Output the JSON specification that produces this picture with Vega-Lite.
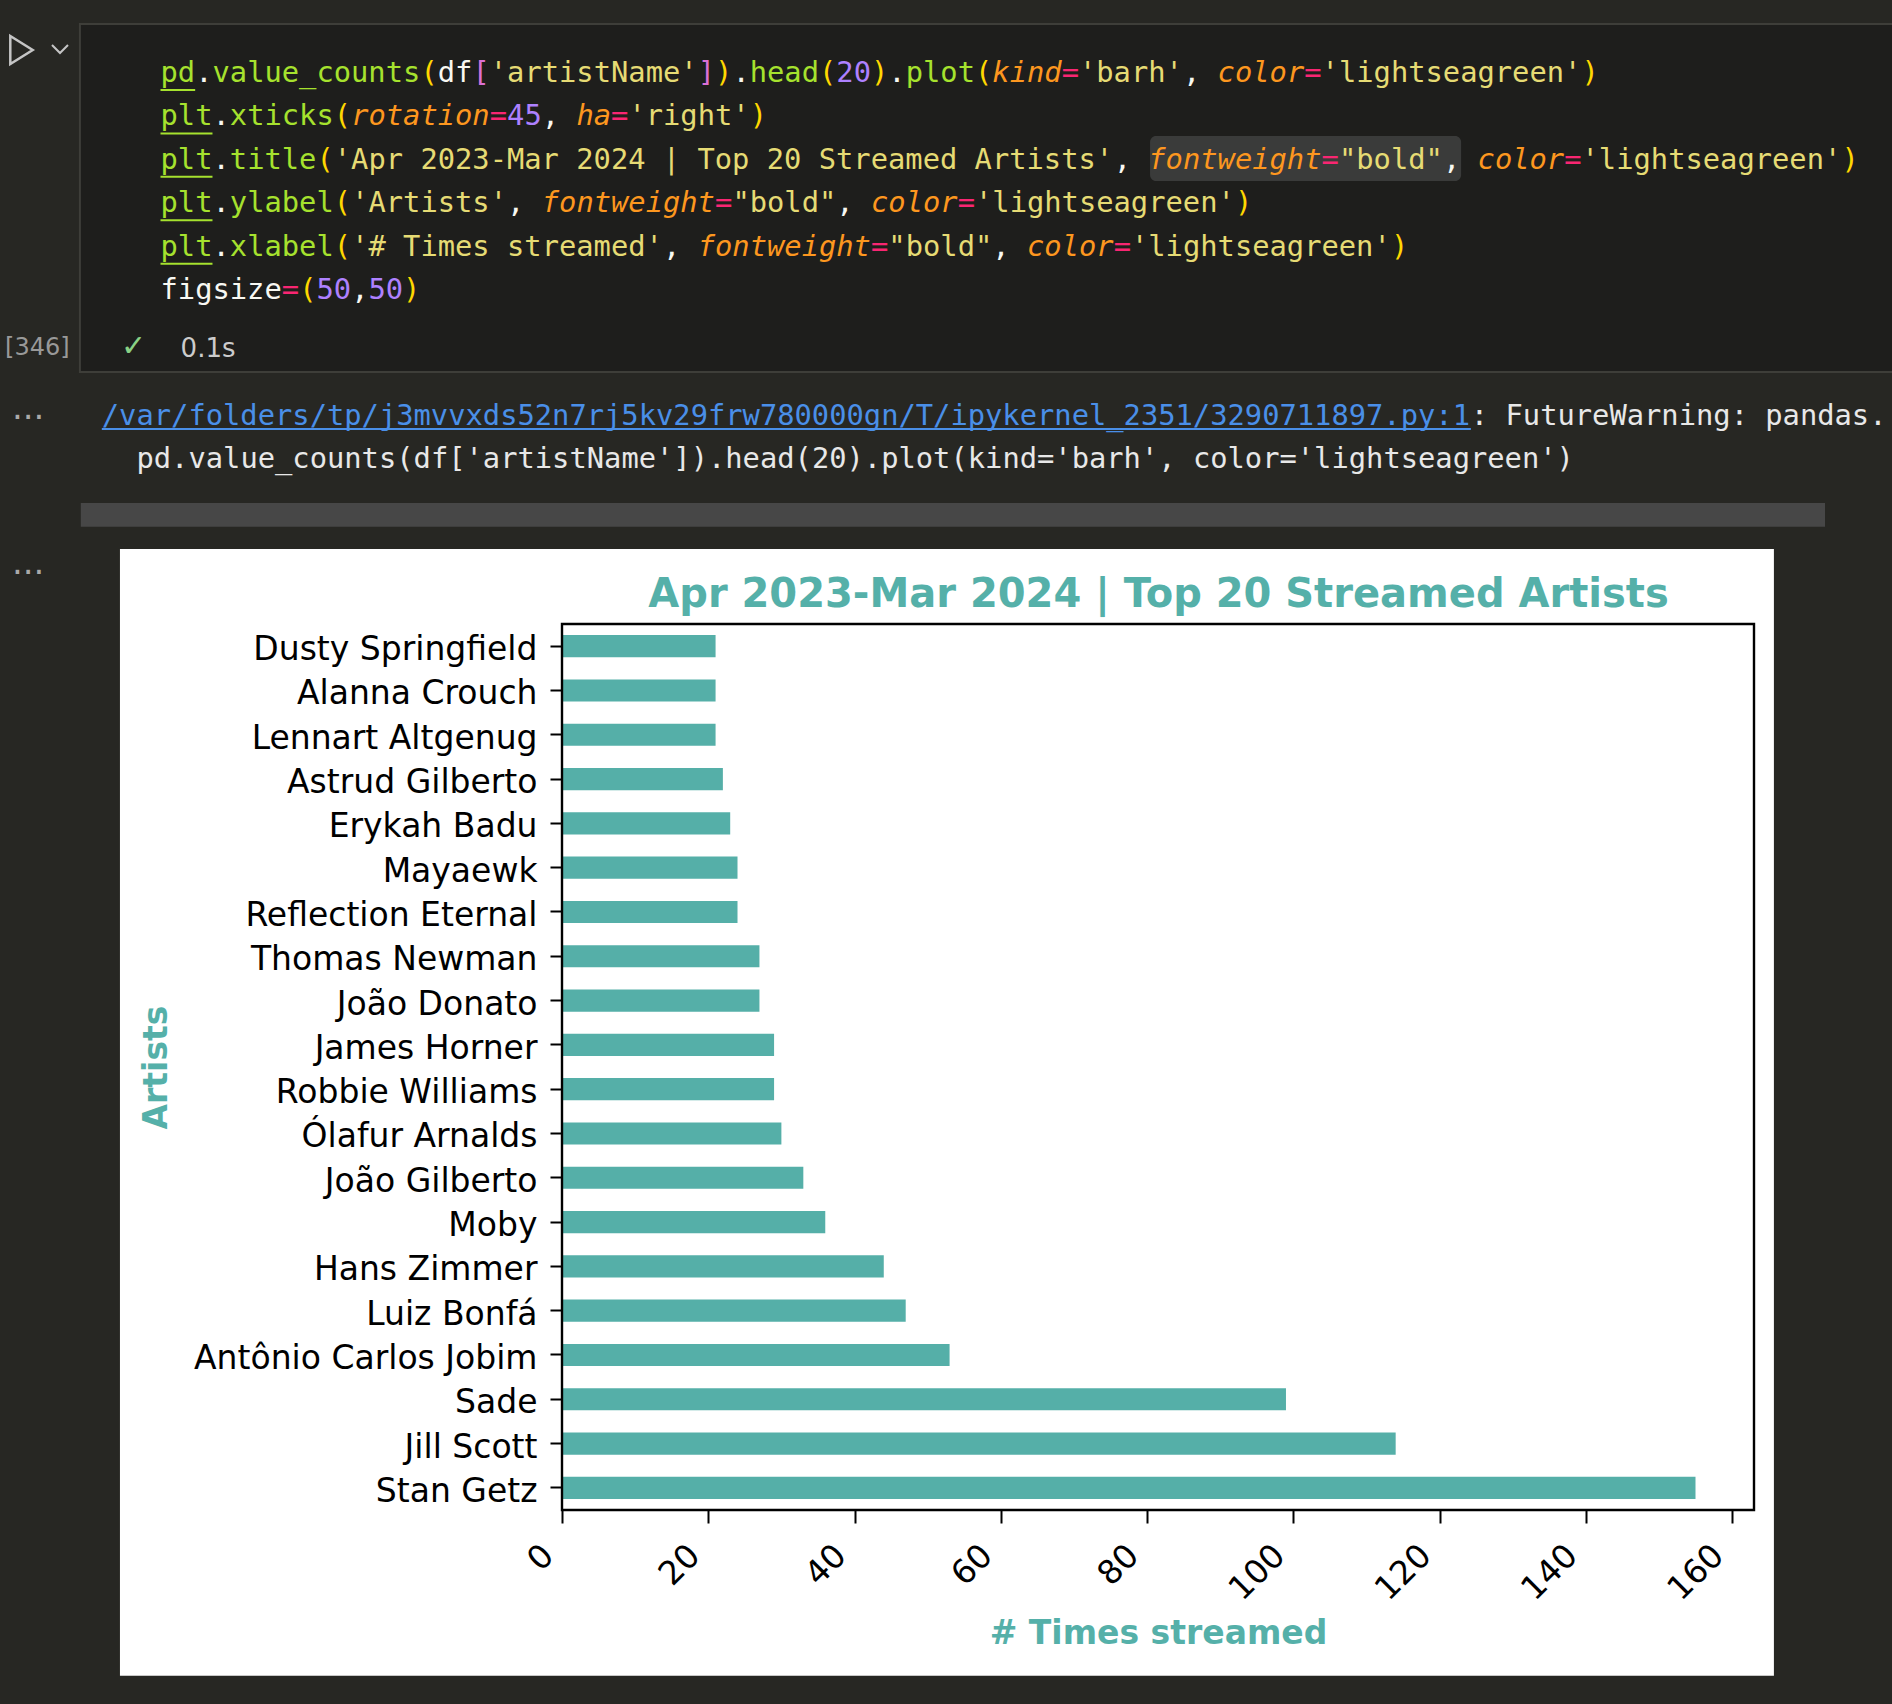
{
  "$schema": "https://vega.github.io/schema/vega-lite/v6.json",
  "autosize": "none",
  "width": 1192,
  "height": 886,
  "padding": {"left": 562, "top": 624, "right": 138, "bottom": 194},
  "background": "#272723",
  "config": {"view": {"stroke": null}},
  "datasets": {
    "artists": [
      {"artist": "Dusty Springfield", "count": 21},
      {"artist": "Alanna Crouch", "count": 21},
      {"artist": "Lennart Altgenug", "count": 21},
      {"artist": "Astrud Gilberto", "count": 22},
      {"artist": "Erykah Badu", "count": 23},
      {"artist": "Mayaewk", "count": 24},
      {"artist": "Reflection Eternal", "count": 24},
      {"artist": "Thomas Newman", "count": 27},
      {"artist": "João Donato", "count": 27},
      {"artist": "James Horner", "count": 29},
      {"artist": "Robbie Williams", "count": 29},
      {"artist": "Ólafur Arnalds", "count": 30},
      {"artist": "João Gilberto", "count": 33},
      {"artist": "Moby", "count": 36},
      {"artist": "Hans Zimmer", "count": 44},
      {"artist": "Luiz Bonfá", "count": 47},
      {"artist": "Antônio Carlos Jobim", "count": 53},
      {"artist": "Sade", "count": 99},
      {"artist": "Jill Scott", "count": 114},
      {"artist": "Stan Getz", "count": 155}
    ],
    "code": [
      {"ln": 1, "c": 0, "t": "pd", "k": "mod"},
      {"ln": 1, "c": 2, "t": ".", "k": "w"},
      {"ln": 1, "c": 3, "t": "value_counts", "k": "fn"},
      {"ln": 1, "c": 15, "t": "(", "k": "par"},
      {"ln": 1, "c": 16, "t": "df", "k": "w"},
      {"ln": 1, "c": 18, "t": "[", "k": "br"},
      {"ln": 1, "c": 19, "t": "'artistName'", "k": "str"},
      {"ln": 1, "c": 31, "t": "]", "k": "br"},
      {"ln": 1, "c": 32, "t": ")", "k": "par"},
      {"ln": 1, "c": 33, "t": ".", "k": "w"},
      {"ln": 1, "c": 34, "t": "head", "k": "fn"},
      {"ln": 1, "c": 38, "t": "(", "k": "par"},
      {"ln": 1, "c": 39, "t": "20", "k": "num"},
      {"ln": 1, "c": 41, "t": ")", "k": "par"},
      {"ln": 1, "c": 42, "t": ".", "k": "w"},
      {"ln": 1, "c": 43, "t": "plot", "k": "fn"},
      {"ln": 1, "c": 47, "t": "(", "k": "par"},
      {"ln": 1, "c": 48, "t": "kind", "k": "kw"},
      {"ln": 1, "c": 52, "t": "=", "k": "eq"},
      {"ln": 1, "c": 53, "t": "'barh'", "k": "str"},
      {"ln": 1, "c": 59, "t": ",", "k": "w"},
      {"ln": 1, "c": 61, "t": "color", "k": "kw"},
      {"ln": 1, "c": 66, "t": "=", "k": "eq"},
      {"ln": 1, "c": 67, "t": "'lightseagreen'", "k": "str"},
      {"ln": 1, "c": 82, "t": ")", "k": "par"},
      {"ln": 2, "c": 0, "t": "plt", "k": "mod"},
      {"ln": 2, "c": 3, "t": ".", "k": "w"},
      {"ln": 2, "c": 4, "t": "xticks", "k": "fn"},
      {"ln": 2, "c": 10, "t": "(", "k": "par"},
      {"ln": 2, "c": 11, "t": "rotation", "k": "kw"},
      {"ln": 2, "c": 19, "t": "=", "k": "eq"},
      {"ln": 2, "c": 20, "t": "45", "k": "num"},
      {"ln": 2, "c": 22, "t": ",", "k": "w"},
      {"ln": 2, "c": 24, "t": "ha", "k": "kw"},
      {"ln": 2, "c": 26, "t": "=", "k": "eq"},
      {"ln": 2, "c": 27, "t": "'right'", "k": "str"},
      {"ln": 2, "c": 34, "t": ")", "k": "par"},
      {"ln": 3, "c": 0, "t": "plt", "k": "mod"},
      {"ln": 3, "c": 3, "t": ".", "k": "w"},
      {"ln": 3, "c": 4, "t": "title", "k": "fn"},
      {"ln": 3, "c": 9, "t": "(", "k": "par"},
      {"ln": 3, "c": 10, "t": "'Apr 2023-Mar 2024 | Top 20 Streamed Artists'", "k": "str"},
      {"ln": 3, "c": 55, "t": ",", "k": "w"},
      {"ln": 3, "c": 57, "t": "fontweight", "k": "kw"},
      {"ln": 3, "c": 67, "t": "=", "k": "eq"},
      {"ln": 3, "c": 68, "t": "\"bold\"", "k": "str"},
      {"ln": 3, "c": 74, "t": ",", "k": "w"},
      {"ln": 3, "c": 76, "t": "color", "k": "kw"},
      {"ln": 3, "c": 81, "t": "=", "k": "eq"},
      {"ln": 3, "c": 82, "t": "'lightseagreen'", "k": "str"},
      {"ln": 3, "c": 97, "t": ")", "k": "par"},
      {"ln": 4, "c": 0, "t": "plt", "k": "mod"},
      {"ln": 4, "c": 3, "t": ".", "k": "w"},
      {"ln": 4, "c": 4, "t": "ylabel", "k": "fn"},
      {"ln": 4, "c": 10, "t": "(", "k": "par"},
      {"ln": 4, "c": 11, "t": "'Artists'", "k": "str"},
      {"ln": 4, "c": 20, "t": ",", "k": "w"},
      {"ln": 4, "c": 22, "t": "fontweight", "k": "kw"},
      {"ln": 4, "c": 32, "t": "=", "k": "eq"},
      {"ln": 4, "c": 33, "t": "\"bold\"", "k": "str"},
      {"ln": 4, "c": 39, "t": ",", "k": "w"},
      {"ln": 4, "c": 41, "t": "color", "k": "kw"},
      {"ln": 4, "c": 46, "t": "=", "k": "eq"},
      {"ln": 4, "c": 47, "t": "'lightseagreen'", "k": "str"},
      {"ln": 4, "c": 62, "t": ")", "k": "par"},
      {"ln": 5, "c": 0, "t": "plt", "k": "mod"},
      {"ln": 5, "c": 3, "t": ".", "k": "w"},
      {"ln": 5, "c": 4, "t": "xlabel", "k": "fn"},
      {"ln": 5, "c": 10, "t": "(", "k": "par"},
      {"ln": 5, "c": 11, "t": "'# Times streamed'", "k": "str"},
      {"ln": 5, "c": 29, "t": ",", "k": "w"},
      {"ln": 5, "c": 31, "t": "fontweight", "k": "kw"},
      {"ln": 5, "c": 41, "t": "=", "k": "eq"},
      {"ln": 5, "c": 42, "t": "\"bold\"", "k": "str"},
      {"ln": 5, "c": 48, "t": ",", "k": "w"},
      {"ln": 5, "c": 50, "t": "color", "k": "kw"},
      {"ln": 5, "c": 55, "t": "=", "k": "eq"},
      {"ln": 5, "c": 56, "t": "'lightseagreen'", "k": "str"},
      {"ln": 5, "c": 71, "t": ")", "k": "par"},
      {"ln": 6, "c": 0, "t": "figsize", "k": "w"},
      {"ln": 6, "c": 7, "t": "=", "k": "eq"},
      {"ln": 6, "c": 8, "t": "(", "k": "par"},
      {"ln": 6, "c": 9, "t": "50", "k": "num"},
      {"ln": 6, "c": 11, "t": ",", "k": "w"},
      {"ln": 6, "c": 12, "t": "50", "k": "num"},
      {"ln": 6, "c": 14, "t": ")", "k": "par"}
    ],
    "output": [
      {"ln": 8.903, "c": -3.387, "t": "/var/folders/tp/j3mvvxds52n7rj5kv29frw780000gn/T/ipykernel_2351/3290711897.py:1", "k": "link"},
      {"ln": 8.903, "c": 75.613, "t": ": FutureWarning: pandas.", "k": "out"},
      {"ln": 9.896, "c": -1.387, "t": "pd.value_counts(df['artistName']).head(20).plot(kind='barh', color='lightseagreen')", "k": "out"}
    ],
    "underlines": [
      {"ln": 1, "c0": 0, "c1": 2, "k": "mod"},
      {"ln": 2, "c0": 0, "c1": 3, "k": "mod"},
      {"ln": 3, "c0": 0, "c1": 3, "k": "mod"},
      {"ln": 4, "c0": 0, "c1": 3, "k": "mod"},
      {"ln": 5, "c0": 0, "c1": 3, "k": "mod"}
    ],
    "linkline": [
      {"ln": 8.903, "c0": -3.387, "c1": 75.613, "k": "link"}
    ]
  },
  "resolve": {"scale": {"x": "independent", "y": "independent"}},
  "layer": [
    {
      "data": {"values": [{}]},
      "mark": {"type": "rect", "fill": "#1e1e1c", "stroke": "#3e3e39", "strokeWidth": 2},
      "encoding": {
        "x": {"datum": -4.65, "type": "quantitative", "scale": {"domain": [23.168, 91.951], "nice": false, "zero": false}, "axis": null},
        "x2": {"datum": 101},
        "y": {"datum": -0.336, "type": "quantitative", "scale": {"domain": [13.488, 33.903], "nice": false, "zero": false, "reverse": true}, "axis": null},
        "y2": {"datum": 7.68}
      }
    },
    {
      "data": {"values": [{}]},
      "mark": {"type": "rect", "fill": "#3a3b3a", "cornerRadius": 6},
      "encoding": {
        "x": {"datum": 57.1, "type": "quantitative", "scale": {"domain": [23.168, 91.951], "nice": false, "zero": false}, "axis": null},
        "x2": {"datum": 75.05},
        "y": {"datum": 2.244, "type": "quantitative", "scale": {"domain": [13.488, 33.903], "nice": false, "zero": false, "reverse": true}, "axis": null},
        "y2": {"datum": 3.281}
      }
    },
    {
      "data": {"values": [{}]},
      "mark": {"type": "rect", "fill": "#474747"},
      "encoding": {
        "x": {"datum": -4.6, "type": "quantitative", "scale": {"domain": [23.168, 91.951], "nice": false, "zero": false}, "axis": null},
        "x2": {"datum": 96.05},
        "y": {"datum": 10.7, "type": "quantitative", "scale": {"domain": [13.488, 33.903], "nice": false, "zero": false, "reverse": true}, "axis": null},
        "y2": {"datum": 11.25}
      }
    },
    {
      "data": {"values": [{}]},
      "mark": {"type": "rect", "fill": "#ffffff"},
      "encoding": {
        "x": {"datum": -2.34, "type": "quantitative", "scale": {"domain": [23.168, 91.951], "nice": false, "zero": false}, "axis": null},
        "x2": {"datum": 93.1},
        "y": {"datum": 11.76, "type": "quantitative", "scale": {"domain": [13.488, 33.903], "nice": false, "zero": false, "reverse": true}, "axis": null},
        "y2": {"datum": 37.72}
      }
    },
    {
      "data": {"name": "code"},
      "transform": [{"filter": "datum.k != 'kw'"}],
      "mark": {"type": "text", "font": "DejaVu Sans Mono", "fontSize": 28.78, "align": "left", "baseline": "alphabetic"},
      "encoding": {
        "x": {"field": "c", "type": "quantitative", "scale": {"domain": [23.168, 91.951], "nice": false, "zero": false}, "axis": null},
        "y": {"field": "ln", "type": "quantitative", "scale": {"domain": [13.488, 33.903], "nice": false, "zero": false, "reverse": true}, "axis": null},
        "text": {"field": "t"},
        "color": {"field": "k", "type": "nominal", "legend": null, "scale": {"domain": ["mod", "fn", "w", "par", "br", "str", "num", "kw", "eq", "link", "out"], "range": ["#a6e22e", "#a6e22e", "#f8f8f2", "#ffd700", "#da70d6", "#e6db74", "#ae81ff", "#fd971f", "#f92672", "#4a8fe8", "#e8e8e8"]}}
      }
    },
    {
      "data": {"name": "code"},
      "transform": [{"filter": "datum.k == 'kw'"}],
      "mark": {"type": "text", "font": "DejaVu Sans Mono", "fontSize": 28.78, "fontStyle": "italic", "align": "left", "baseline": "alphabetic"},
      "encoding": {
        "x": {"field": "c", "type": "quantitative", "scale": {"domain": [23.168, 91.951], "nice": false, "zero": false}, "axis": null},
        "y": {"field": "ln", "type": "quantitative", "scale": {"domain": [13.488, 33.903], "nice": false, "zero": false, "reverse": true}, "axis": null},
        "text": {"field": "t"},
        "color": {"field": "k", "type": "nominal", "legend": null, "scale": {"domain": ["mod", "fn", "w", "par", "br", "str", "num", "kw", "eq", "link", "out"], "range": ["#a6e22e", "#a6e22e", "#f8f8f2", "#ffd700", "#da70d6", "#e6db74", "#ae81ff", "#fd971f", "#f92672", "#4a8fe8", "#e8e8e8"]}}
      }
    },
    {
      "data": {"name": "output"},
      "mark": {"type": "text", "font": "DejaVu Sans Mono", "fontSize": 28.78, "align": "left", "baseline": "alphabetic"},
      "encoding": {
        "x": {"field": "c", "type": "quantitative", "scale": {"domain": [23.168, 91.951], "nice": false, "zero": false}, "axis": null},
        "y": {"field": "ln", "type": "quantitative", "scale": {"domain": [13.488, 33.903], "nice": false, "zero": false, "reverse": true}, "axis": null},
        "text": {"field": "t"},
        "color": {"field": "k", "type": "nominal", "legend": null, "scale": {"domain": ["mod", "fn", "w", "par", "br", "str", "num", "kw", "eq", "link", "out"], "range": ["#a6e22e", "#a6e22e", "#f8f8f2", "#ffd700", "#da70d6", "#e6db74", "#ae81ff", "#fd971f", "#f92672", "#4a8fe8", "#e8e8e8"]}}
      }
    },
    {
      "data": {"name": "underlines"},
      "mark": {"type": "rule", "strokeWidth": 2, "yOffset": 8},
      "encoding": {
        "x": {"field": "c0", "type": "quantitative", "scale": {"domain": [23.168, 91.951], "nice": false, "zero": false}, "axis": null},
        "x2": {"field": "c1"},
        "y": {"field": "ln", "type": "quantitative", "scale": {"domain": [13.488, 33.903], "nice": false, "zero": false, "reverse": true}, "axis": null},
        "color": {"field": "k", "type": "nominal", "legend": null, "scale": {"domain": ["mod", "fn", "w", "par", "br", "str", "num", "kw", "eq", "link", "out"], "range": ["#a6e22e", "#a6e22e", "#f8f8f2", "#ffd700", "#da70d6", "#e6db74", "#ae81ff", "#fd971f", "#f92672", "#4a8fe8", "#e8e8e8"]}}
      }
    },
    {
      "data": {"name": "linkline"},
      "mark": {"type": "rule", "strokeWidth": 2, "yOffset": 4},
      "encoding": {
        "x": {"field": "c0", "type": "quantitative", "scale": {"domain": [23.168, 91.951], "nice": false, "zero": false}, "axis": null},
        "x2": {"field": "c1"},
        "y": {"field": "ln", "type": "quantitative", "scale": {"domain": [13.488, 33.903], "nice": false, "zero": false, "reverse": true}, "axis": null},
        "color": {"field": "k", "type": "nominal", "legend": null, "scale": {"domain": ["mod", "fn", "w", "par", "br", "str", "num", "kw", "eq", "link", "out"], "range": ["#a6e22e", "#a6e22e", "#f8f8f2", "#ffd700", "#da70d6", "#e6db74", "#ae81ff", "#fd971f", "#f92672", "#4a8fe8", "#e8e8e8"]}}
      }
    },
    {
      "data": {"values": [{"ln": 7.3, "c": -8.97, "t": "[346]"}]},
      "mark": {"type": "text", "font": "DejaVu Sans", "fontSize": 24, "align": "left", "baseline": "alphabetic", "color": "#999999"},
      "encoding": {
        "x": {"field": "c", "type": "quantitative", "scale": {"domain": [23.168, 91.951], "nice": false, "zero": false}, "axis": null},
        "y": {"field": "ln", "type": "quantitative", "scale": {"domain": [13.488, 33.903], "nice": false, "zero": false, "reverse": true}, "axis": null},
        "text": {"field": "t"}
      }
    },
    {
      "data": {"values": [{"ln": 7.313, "c": -2.28, "t": "✓"}]},
      "mark": {"type": "text", "font": "DejaVu Sans", "fontSize": 30, "align": "left", "baseline": "alphabetic", "color": "#89d185"},
      "encoding": {
        "x": {"field": "c", "type": "quantitative", "scale": {"domain": [23.168, 91.951], "nice": false, "zero": false}, "axis": null},
        "y": {"field": "ln", "type": "quantitative", "scale": {"domain": [13.488, 33.903], "nice": false, "zero": false, "reverse": true}, "axis": null},
        "text": {"field": "t"}
      }
    },
    {
      "data": {"values": [{"ln": 7.336, "c": 1.16, "t": "0.1s"}]},
      "mark": {"type": "text", "font": "DejaVu Sans", "fontSize": 26, "align": "left", "baseline": "alphabetic", "color": "#cccccc"},
      "encoding": {
        "x": {"field": "c", "type": "quantitative", "scale": {"domain": [23.168, 91.951], "nice": false, "zero": false}, "axis": null},
        "y": {"field": "ln", "type": "quantitative", "scale": {"domain": [13.488, 33.903], "nice": false, "zero": false, "reverse": true}, "axis": null},
        "text": {"field": "t"}
      }
    },
    {
      "data": {"values": [{"ln": 8.765, "c": -8.57, "t": "..."}, {"ln": 12.33, "c": -8.57, "t": "..."}]},
      "mark": {"type": "text", "font": "DejaVu Sans", "fontSize": 34, "align": "left", "baseline": "alphabetic", "color": "#aaaaaa"},
      "encoding": {
        "x": {"field": "c", "type": "quantitative", "scale": {"domain": [23.168, 91.951], "nice": false, "zero": false}, "axis": null},
        "y": {"field": "ln", "type": "quantitative", "scale": {"domain": [13.488, 33.903], "nice": false, "zero": false, "reverse": true}, "axis": null},
        "text": {"field": "t"}
      }
    },
    {
      "data": {"values": [{}]},
      "mark": {"type": "point", "shape": "M-0.8,-1L0.8,0L-0.8,1Z", "size": 784, "filled": false, "stroke": "#c5c5c5", "strokeWidth": 2.5, "opacity": 1},
      "encoding": {
        "x": {"datum": -8.021, "type": "quantitative", "scale": {"domain": [23.168, 91.951], "nice": false, "zero": false}, "axis": null},
        "y": {"datum": 0.263, "type": "quantitative", "scale": {"domain": [13.488, 33.903], "nice": false, "zero": false, "reverse": true}, "axis": null}
      }
    },
    {
      "data": {"values": [{}]},
      "mark": {"type": "point", "shape": "M-1,-0.5L0,0.5L1,-0.5", "size": 256, "filled": false, "stroke": "#c5c5c5", "strokeWidth": 2, "opacity": 1},
      "encoding": {
        "x": {"datum": -5.8, "type": "quantitative", "scale": {"domain": [23.168, 91.951], "nice": false, "zero": false}, "axis": null},
        "y": {"datum": 0.24, "type": "quantitative", "scale": {"domain": [13.488, 33.903], "nice": false, "zero": false, "reverse": true}, "axis": null}
      }
    },
    {
      "data": {"name": "artists"},
      "mark": {"type": "bar", "color": "#55afa8"},
      "encoding": {
        "y": {
          "field": "artist", "type": "nominal", "sort": null,
          "scale": {"paddingInner": 0.5, "paddingOuter": 0.25},
          "axis": {
            "title": "Artists", "titleFont": "DejaVu Sans", "titleFontSize": 33, "titleFontWeight": "bold", "titleColor": "#55b0a9", "titlePadding": 189,
            "labelFont": "DejaVu Sans", "labelFontSize": 33, "labelColor": "#000000", "labelPadding": 13, "labelLimit": 1000, "labelOffset": 4,
            "tickColor": "#000000", "tickWidth": 2, "tickSize": 12, "domain": false, "grid": false, "zindex": 1
          }
        },
        "x": {
          "field": "count", "type": "quantitative",
          "scale": {"domain": [0, 163], "nice": false, "zero": true},
          "axis": {
            "title": "# Times streamed", "titleFont": "DejaVu Sans", "titleFontSize": 33, "titleFontWeight": "bold", "titleColor": "#55b0a9", "titlePadding": 11,
            "values": [0, 20, 40, 60, 80, 100, 120, 140, 160], "format": "d",
            "labelAngle": -45, "labelAlign": "right", "labelBaseline": "middle", "labelFlush": false, "labelOverlap": false,
            "labelFont": "DejaVu Sans", "labelFontSize": 33, "labelColor": "#000000", "labelPadding": 27, "labelOffset": -14,
            "tickColor": "#000000", "tickWidth": 2, "tickSize": 13, "domain": false, "grid": false, "zindex": 1
          }
        }
      }
    },
    {
      "data": {"values": [{}]},
      "mark": {"type": "rect", "filled": false, "stroke": "#000000", "strokeWidth": 2.4},
      "encoding": {
        "x": {
          "datum": 23.168, "type": "quantitative",
          "scale": {"domain": [23.168, 91.951], "nice": false, "zero": false},
          "axis": {
            "orient": "top", "title": "Apr 2023-Mar 2024 | Top 20 Streamed Artists",
            "titleFont": "DejaVu Sans", "titleFontSize": 40, "titleFontWeight": "bold", "titleColor": "#55b0a9",
            "titlePadding": 18, "titleBaseline": "alphabetic",
            "labels": false, "ticks": false, "domain": false, "grid": false, "zindex": 2
          }
        },
        "x2": {"datum": 91.951},
        "y": {"datum": 13.488, "type": "quantitative", "scale": {"domain": [13.488, 33.903], "nice": false, "zero": false, "reverse": true}, "axis": null},
        "y2": {"datum": 33.903}
      }
    }
  ]
}
